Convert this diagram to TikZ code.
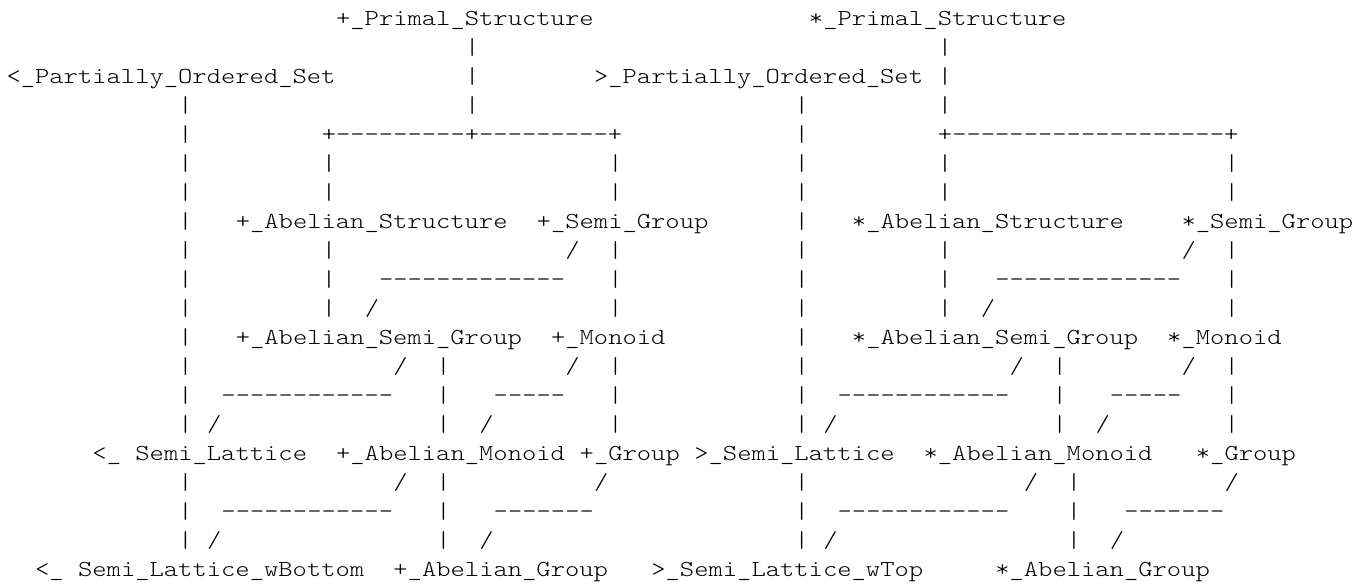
\documentclass[tikz,border=0pt]{standalone}
\usepackage{fontspec}
\setmonofont{lmmonolt10-regular.otf}
% character grid: 14.33pt per column, 29.04pt per line
\tikzset{txt/.style={anchor=base west, inner sep=0pt, outer sep=0pt,
  font=\ttfamily\fontsize{22.9}{29}\selectfont}}
\newcommand\ac[3]{\node[txt] (t#2c#1) at ({6.5+14.33*#1},{-(25+29.04*#2)}) {\scalebox{1.19}[1]{#3}};}
\begin{document}
\begin{tikzpicture}[x=1pt,y=1pt]
\fill[white] (0,0) rectangle (1365,-587);
\useasboundingbox (0,0) rectangle (1365,-587);
% line 0
\ac{23}{0}{+\_Primal\_Structure}\ac{56}{0}{*\_Primal\_Structure}
% line 1
\ac{32}{1}{|}\ac{65}{1}{|}
% line 2
\ac{0}{2}{<\_Partially\_Ordered\_Set}\ac{32}{2}{|}\ac{41}{2}{>\_Partially\_Ordered\_Set}\ac{65}{2}{|}
% line 3
\ac{12}{3}{|}\ac{32}{3}{|}\ac{55}{3}{|}\ac{65}{3}{|}
% line 4
\ac{12}{4}{|}\ac{22}{4}{+---------+---------+}\ac{55}{4}{|}\ac{65}{4}{+-------------------+}
% lines 5-6
\foreach \r in {5,6}{\foreach \c in {12,22,42,55,65,85}{\ac{\c}{\r}{|}}}
% line 7
\ac{12}{7}{|}\ac{16}{7}{+\_Abelian\_Structure}\ac{37}{7}{+\_Semi\_Group}\ac{55}{7}{|}\ac{59}{7}{*\_Abelian\_Structure}\ac{82}{7}{*\_Semi\_Group}
% line 8
\ac{12}{8}{|}\ac{22}{8}{|}\ac{39}{8}{/}\ac{42}{8}{|}\ac{55}{8}{|}\ac{65}{8}{|}\ac{82}{8}{/}\ac{85}{8}{|}
% line 9
\ac{12}{9}{|}\ac{22}{9}{|}\ac{26}{9}{-------------}\ac{42}{9}{|}\ac{55}{9}{|}\ac{65}{9}{|}\ac{69}{9}{-------------}\ac{85}{9}{|}
% line 10
\ac{12}{10}{|}\ac{22}{10}{|}\ac{25}{10}{/}\ac{42}{10}{|}\ac{55}{10}{|}\ac{65}{10}{|}\ac{68}{10}{/}\ac{85}{10}{|}
% line 11
\ac{12}{11}{|}\ac{16}{11}{+\_Abelian\_Semi\_Group}\ac{38}{11}{+\_Monoid}\ac{55}{11}{|}\ac{59}{11}{*\_Abelian\_Semi\_Group}\ac{81}{11}{*\_Monoid}
% line 12
\ac{12}{12}{|}\ac{27}{12}{/}\ac{30}{12}{|}\ac{39}{12}{/}\ac{42}{12}{|}\ac{55}{12}{|}\ac{70}{12}{/}\ac{73}{12}{|}\ac{82}{12}{/}\ac{85}{12}{|}
% line 13
\ac{12}{13}{|}\ac{15}{13}{------------}\ac{30}{13}{|}\ac{34}{13}{-----}\ac{42}{13}{|}\ac{55}{13}{|}\ac{58}{13}{------------}\ac{73}{13}{|}\ac{77}{13}{-----}\ac{85}{13}{|}
% line 14
\ac{12}{14}{|}\ac{14}{14}{/}\ac{30}{14}{|}\ac{33}{14}{/}\ac{42}{14}{|}\ac{55}{14}{|}\ac{57}{14}{/}\ac{73}{14}{|}\ac{76}{14}{/}\ac{85}{14}{|}
% line 15
\ac{6}{15}{<\_ Semi\_Lattice}\ac{23}{15}{+\_Abelian\_Monoid}\ac{40}{15}{+\_Group}\ac{48}{15}{>\_Semi\_Lattice}\ac{64}{15}{*\_Abelian\_Monoid}\ac{83}{15}{*\_Group}
% line 16
\ac{12}{16}{|}\ac{27}{16}{/}\ac{30}{16}{|}\ac{41}{16}{/}\ac{55}{16}{|}\ac{71}{16}{/}\ac{74}{16}{|}\ac{85}{16}{/}
% line 17
\ac{12}{17}{|}\ac{15}{17}{------------}\ac{30}{17}{|}\ac{34}{17}{-------}\ac{55}{17}{|}\ac{58}{17}{------------}\ac{74}{17}{|}\ac{78}{17}{-------}
% line 18
\ac{12}{18}{|}\ac{14}{18}{/}\ac{30}{18}{|}\ac{33}{18}{/}\ac{55}{18}{|}\ac{57}{18}{/}\ac{74}{18}{|}\ac{77}{18}{/}
% line 19
\ac{2}{19}{<\_ Semi\_Lattice\_wBottom}\ac{27}{19}{+\_Abelian\_Group}\ac{45}{19}{>\_Semi\_Lattice\_wTop}\ac{69}{19}{*\_Abelian\_Group}
\end{tikzpicture}
\end{document}
